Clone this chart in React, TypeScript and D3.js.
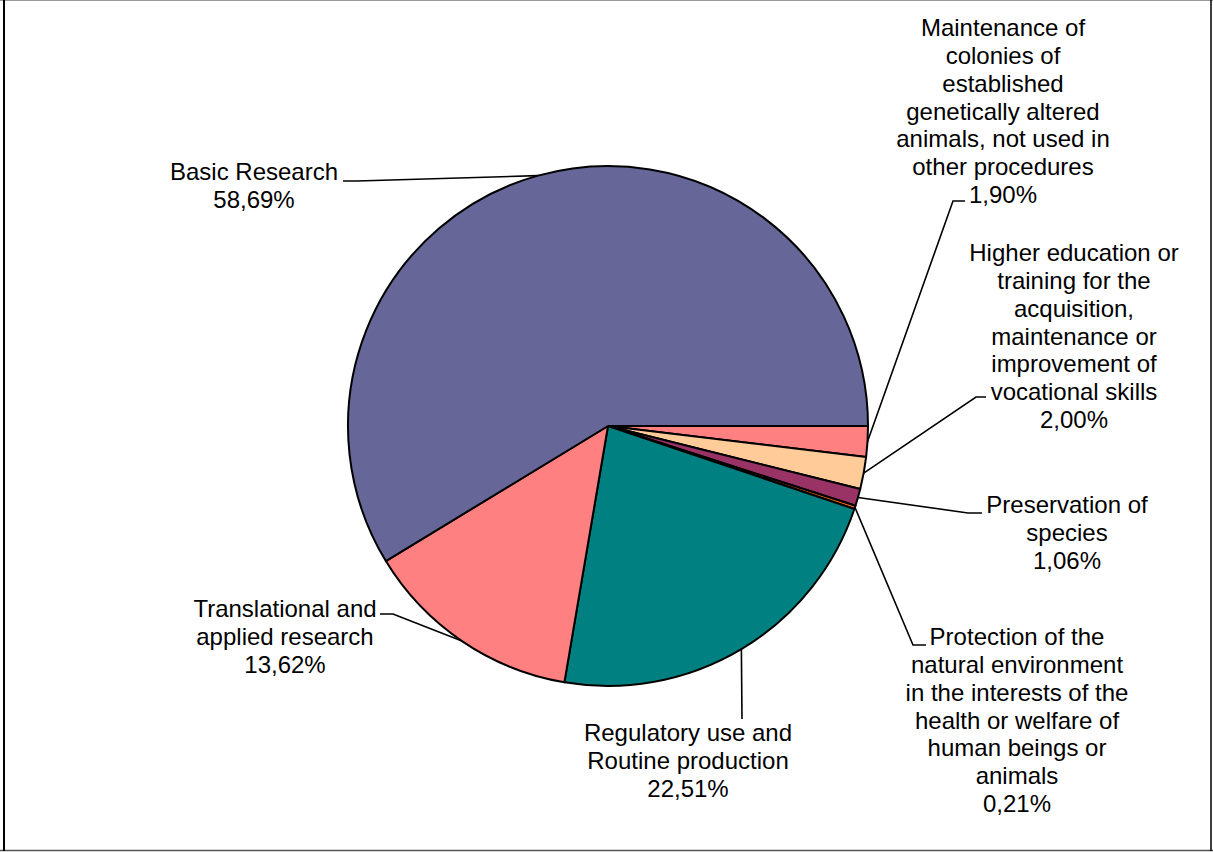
import React from "react";
import * as d3 from "d3";

// Data (clockwise from 3 o'clock)
const categories = [
  "Maintenance of colonies of established genetically altered animals, not used in other procedures",
  "Higher education or training for the acquisition, maintenance or improvement of vocational skills",
  "Preservation of species",
  "Protection of the natural environment in the interests of the health or welfare of human beings or animals",
  "Regulatory use and Routine production",
  "Translational and applied research",
  "Basic Research",
];
const values = [1.9, 2.0, 1.06, 0.21, 22.51, 13.62, 58.69];
const valueLabels = ["1,90%", "2,00%", "1,06%", "0,21%", "22,51%", "13,62%", "58,69%"];
const labelLines = [
  ["Maintenance of", "colonies of", "established", "genetically altered", "animals, not used in", "other procedures"],
  ["Higher education or", "training for the", "acquisition,", "maintenance or", "improvement of", "vocational skills"],
  ["Preservation of", "species"],
  ["Protection of the", "natural environment", "in the interests of the", "health or welfare of", "human beings or", "animals"],
  ["Regulatory use and", "Routine production"],
  ["Translational and", "applied research"],
  ["Basic Research"],
];

// Styles / layout
const colors = ["#FF8080", "#FFCC99", "#993366", "#FF6600", "#008080", "#FF8080", "#666699"];
const labelLayout = [
  { cx: 1003, y0: 28, pts: [[965, 201], [953, 201]] },
  { cx: 1074, y0: 253, pts: [[986, 397], [976, 397]] },
  { cx: 1067, y0: 505, pts: [[982, 513], [968, 513]] },
  { cx: 1017, y0: 637, pts: [[926, 645], [913, 645]] },
  { cx: 688, y0: 733, pts: [[742, 719]] },
  { cx: 285, y0: 609, pts: [[380, 614], [393, 614]] },
  { cx: 254, y0: 172, pts: [[343, 181], [357, 181]] },
];

const W = 1213;
const H = 852;
const CX = 608;
const CY = 426;
const R = 260;
const LH = 27.7;
const FS = 24;

export default function App() {
  const pie = d3
    .pie<number>()
    .sort(null)
    .value((d) => d)
    .startAngle(Math.PI / 2)
    .endAngle(Math.PI / 2 + 2 * Math.PI);
  const arcs = pie(values);
  const arcGen = d3.arc<d3.PieArcDatum<number>>().innerRadius(0).outerRadius(R);
  const line = d3.line();

  return (
    <svg
      width={W}
      height={H}
      style={{ position: "absolute", left: 0, top: 0, background: "#fff" }}
      fontFamily="'Liberation Sans', Arial, sans-serif"
    >
      <rect x={0} y={0} width={W} height={H} fill="#fff" />
      {/* frame */}
      <line x1={0} y1={0.5} x2={W} y2={0.5} stroke="#999" strokeWidth={1} />
      <line x1={0} y1={850.5} x2={W} y2={850.5} stroke="#555" strokeWidth={1.5} />
      <line x1={4} y1={0} x2={4} y2={851} stroke="#000" strokeWidth={2} />
      <line x1={1211} y1={0} x2={1211} y2={851} stroke="#000" strokeWidth={1.5} />

      <g transform={`translate(${CX},${CY})`}>
        {arcs.map((a, i) => (
          <path
            key={i}
            d={arcGen(a) || ""}
            fill={colors[i]}
            stroke="#000"
            strokeWidth={2}
            strokeLinejoin="round"
          />
        ))}
      </g>

      {arcs.map((a, i) => {
        const mid = (a.startAngle + a.endAngle) / 2;
        const ex = CX + R * Math.sin(mid);
        const ey = CY - R * Math.cos(mid);
        const pts = [...labelLayout[i].pts, [ex, ey]] as [number, number][];
        return (
          <path key={"l" + i} d={line(pts) || ""} fill="none" stroke="#000" strokeWidth={1.6} />
        );
      })}

      {labelLayout.map((L, i) => {
        const lines = [...labelLines[i], valueLabels[i]];
        return (
          <text key={"t" + i} textAnchor="middle" fontSize={FS} fill="#000">
            {lines.map((s, j) => (
              <tspan key={j} x={L.cx} y={L.y0 + j * LH + FS * 0.35}>
                {s}
              </tspan>
            ))}
          </text>
        );
      })}
    </svg>
  );
}
